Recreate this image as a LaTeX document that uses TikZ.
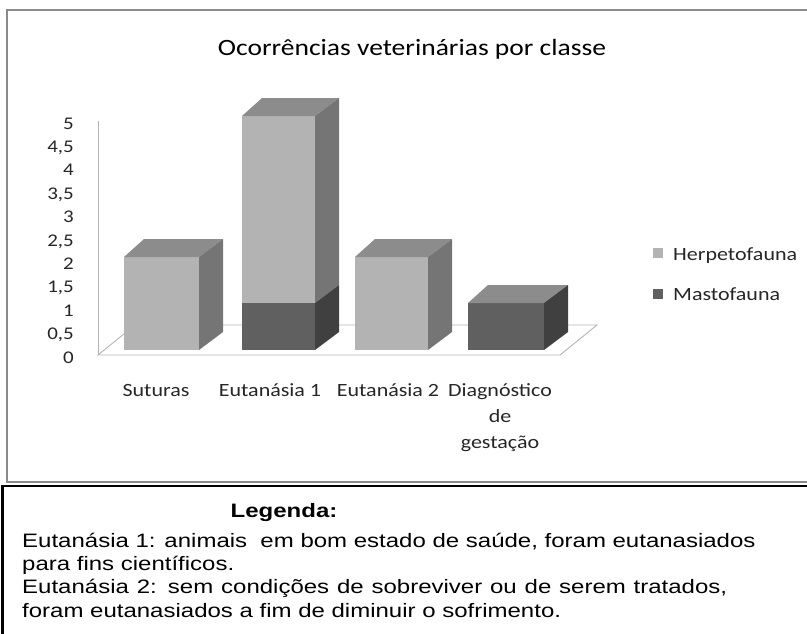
\documentclass[tikz,border=0pt]{standalone}
\usepackage{fontspec}
\newfontfamily\chartfont{Carlito}
\newfontfamily\notefont{Liberation Sans}
\definecolor{herpfront}{HTML}{B3B3B3}
\definecolor{herpside}{HTML}{757575}
\definecolor{bartop}{HTML}{8C8C8C}
\definecolor{mastfront}{HTML}{606060}
\definecolor{mastside}{HTML}{404040}
\definecolor{framegray}{HTML}{8A8A8A}
\definecolor{floorgray}{HTML}{B4B4B4}
\begin{document}
\begin{tikzpicture}[x=1pt, y=-1pt,
    lbl/.style={font=\chartfont\fontsize{22}{26}\selectfont, text=black!85, inner sep=0pt, anchor=base, yscale=0.85},
    axlbl/.style={lbl, font=\chartfont\fontsize{21}{25}\selectfont, anchor=base east},
    keylbl/.style={lbl, anchor=base west},
    title/.style={lbl, font=\chartfont\fontsize{27.5}{32}\selectfont, text=black},
    note/.style={font=\notefont\fontsize{24}{28}\selectfont, inner sep=0pt, anchor=base west, yscale=0.81},
    floor/.style={draw=floorgray, line width=0.9pt}
]
    \useasboundingbox (0,0) rectangle (807,633);

    % chart area
    \draw[framegray, line width=1.4pt] (812,10) -- (7,10) -- (7,482) -- (812,482);
    \node[title] (title) at (412,55) {Ocorrências veterinárias por classe};

    \draw[floor] (98,355) -- (560,355) -- (597,325) -- (135,325) -- cycle;
    \draw[floor] (98,121) -- (98,355);

    \node[axlbl] (y0) at (74,363) {0};
    \node[axlbl] (y05) at (74,339.6) {0,5};
    \node[axlbl] (y1) at (74,316.2) {1};
    \node[axlbl] (y15) at (74,292.8) {1,5};
    \node[axlbl] (y2) at (74,269.4) {2};
    \node[axlbl] (y25) at (74,246) {2,5};
    \node[axlbl] (y3) at (74,222.6) {3};
    \node[axlbl] (y35) at (74,199.2) {3,5};
    \node[axlbl] (y4) at (74,175.8) {4};
    \node[axlbl] (y45) at (74,152.4) {4,5};
    \node[axlbl] (y5) at (74,129) {5};

    % Suturas
    \fill[herpfront] (124,257) rectangle (199,350);
    \fill[bartop] (124,257) -- (199,257) -- (223,239) -- (144,239) -- cycle;
    \fill[herpside] (199,257) -- (223,239) -- (223,332) -- (199,350) -- cycle;

    % Eutanasia 1
    \fill[herpfront] (242,116) rectangle (315,303);
    \fill[mastfront] (242,303) rectangle (315,350);
    \fill[bartop] (242,116) -- (315,116) -- (339,98) -- (262,98) -- cycle;
    \fill[herpside] (315,116) -- (339,98) -- (339,285) -- (315,303) -- cycle;
    \fill[mastside] (315,303) -- (339,285) -- (339,332) -- (315,350) -- cycle;

    % Eutanasia 2
    \fill[herpfront] (355,257) rectangle (428,350);
    \fill[bartop] (355,257) -- (428,257) -- (452,239) -- (375,239) -- cycle;
    \fill[herpside] (428,257) -- (452,239) -- (452,332) -- (428,350) -- cycle;

    % Diagnostico de gestacao
    \fill[mastfront] (468,303) rectangle (544,350);
    \fill[bartop] (468,303) -- (544,303) -- (568,285) -- (488,285) -- cycle;
    \fill[mastside] (544,303) -- (568,285) -- (568,332) -- (544,350) -- cycle;

    \node[lbl] (sut) at (156,396) {Suturas};
    \node[lbl] (eut1) at (270,396) {Eutanásia 1};
    \node[lbl] (eut2) at (388,396) {Eutanásia 2};
    \node[lbl] (diag) at (500,396) {Diagnóstico};
    \node[lbl] (diagde) at (500,422) {de};
    \node[lbl] (diaggest) at (500,448) {gestação};

    \fill[herpfront] (653,248) rectangle (663,258);
    \node[keylbl] (herp) at (673,260) {Herpetofauna};
    \fill[mastfront] (653,289) rectangle (663,299);
    \node[keylbl] (mast) at (673,300) {Mastofauna};

    % legenda box
    \draw[line width=2.6pt] (812,486) -- (2.7,486) -- (2.7,640);
    \node[note, anchor=base, font=\notefont\bfseries\fontsize{24}{28}\selectfont] (leg) at (284,517) {Legenda:};
    \node[note] (line1) at (22,547) {Eutanásia 1: animais~ em bom estado de saúde, foram eutanasiados};
    \node[note] (line2) at (22,570) {para fins científicos.};
    \node[note] (line3) at (22,593) {\makebox[705pt][s]{Eutanásia 2: sem condições de sobreviver ou de serem tratados,}};
    \node[note] (line4) at (22,617) {foram eutanasiados a fim de diminuir o sofrimento.};
\end{tikzpicture}
\end{document}
